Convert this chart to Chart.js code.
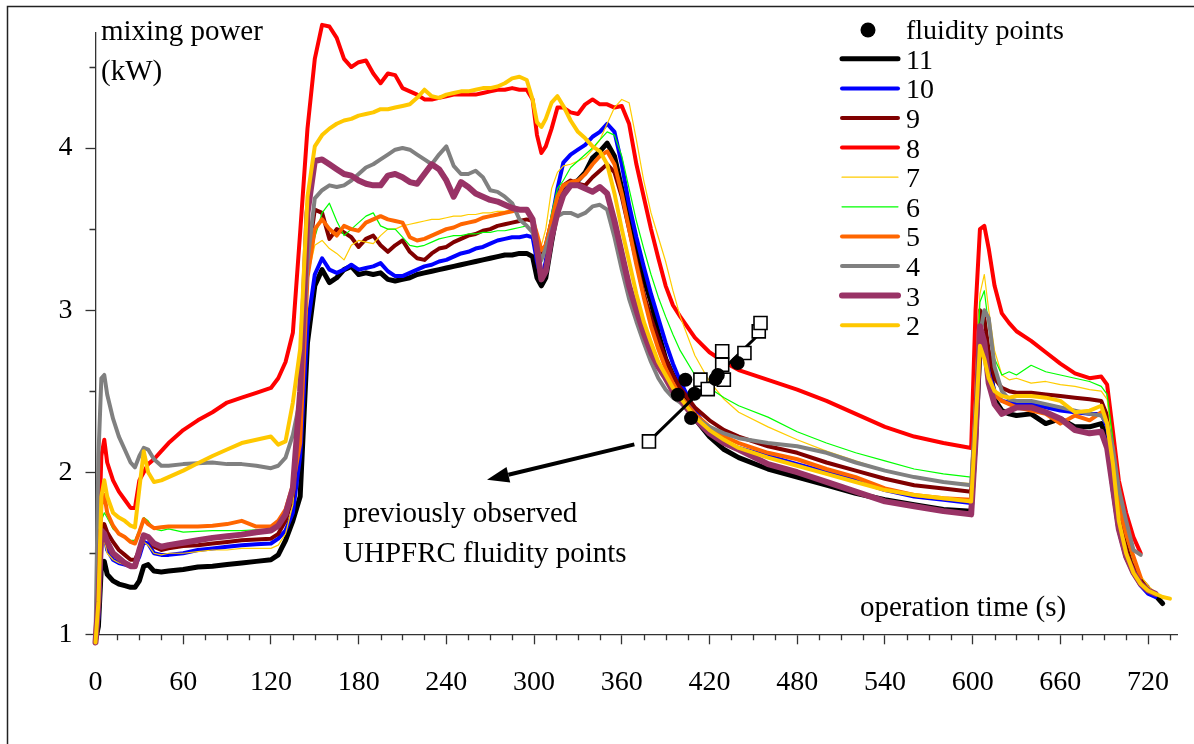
<!DOCTYPE html>
<html><head><meta charset="utf-8">
<script src="https://cdn.jsdelivr.net/npm/chart.js@4.4.1/dist/chart.umd.min.js"></script>
<style>html,body{margin:0;padding:0;background:#fff;}canvas{display:block;}</style>
</head><body>
<canvas id="c" width="1194" height="744"></canvas>
<script>
// ---------------- data ----------------
const timeS = [
 0,2,4,6,8,12,16,20,24,27,30,33,36,40,45,50,60,70,80,90,100,110,120,
 125,130,135,140,145,
 150,155,160,165,170,175,180,185,190,195,200,205,210,215,220,225,230,235,240,245,250,255,260,265,270,275,280,285,290,295,
 299,302,305,308,312,316,320,325,330,335,340,345,350,355,
 360,365,370,375,380,385,390,395,400,410,420,430,440,460,480,500,520,540,560,580,
 599,602,605,608,611,615,620,625,630,640,650,660,670,680,688,692,696,700,705,710,715,720,725,730,735
];
const p11 = [
 0.96,1.05,1.42,1.45,1.37,1.33,1.31,1.30,1.29,1.29,1.33,1.42,1.43,1.39,1.385,1.39,1.40,1.415,1.42,1.43,1.44,1.45,1.46,
 1.49,1.58,1.70,1.85,2.80,
 3.15,3.25,3.17,3.20,3.25,3.27,3.22,3.23,3.22,3.23,3.19,3.18,3.19,3.20,3.22,3.23,3.24,3.25,3.26,3.27,3.28,3.29,3.30,3.31,3.32,3.33,3.34,3.34,3.35,3.35,
 3.33,3.20,3.15,3.20,3.42,3.62,3.72,3.78,3.80,3.85,3.94,3.98,4.03,3.95,
 3.75,3.55,3.36,3.20,3.05,2.86,2.70,2.60,2.52,2.33,2.22,2.14,2.09,2.02,1.97,1.92,1.87,1.83,1.80,1.77,
 1.76,2.20,2.75,2.85,2.70,2.45,2.38,2.36,2.35,2.36,2.30,2.33,2.28,2.28,2.30,2.20,1.90,1.65,1.48,1.38,1.32,1.27,1.24,1.19,null
];
const p10 = [
 0.97,1.10,1.55,1.62,1.52,1.46,1.44,1.43,1.42,1.42,1.48,1.57,1.56,1.50,1.49,1.49,1.50,1.52,1.53,1.54,1.55,1.555,1.56,
 1.59,1.64,1.75,2.10,2.90,
 3.22,3.32,3.25,3.23,3.25,3.28,3.25,3.26,3.27,3.29,3.24,3.21,3.21,3.23,3.25,3.27,3.28,3.30,3.31,3.33,3.35,3.36,3.38,3.39,3.41,3.43,3.44,3.45,3.45,3.46,
 3.45,3.30,3.19,3.30,3.55,3.75,3.91,3.96,3.99,4.02,4.07,4.10,4.15,4.10,
 3.90,3.65,3.45,3.27,3.10,2.95,2.80,2.67,2.56,2.38,2.25,2.18,2.15,2.10,2.05,2.00,1.95,1.89,1.85,1.83,
 1.81,2.30,2.85,2.80,2.62,2.50,2.44,2.43,2.42,2.42,2.40,2.38,2.37,2.36,2.36,2.28,2.00,1.70,1.50,1.38,1.30,1.25,1.23,null,null
];
const p9 = [
 0.97,1.15,1.62,1.68,1.63,1.57,1.52,1.49,1.46,1.46,1.52,1.60,1.60,1.54,1.52,1.53,1.545,1.55,1.56,1.57,1.58,1.585,1.59,
 1.62,1.70,1.85,2.40,3.30,
 3.62,3.60,3.44,3.50,3.48,3.45,3.39,3.44,3.46,3.40,3.36,3.40,3.43,3.36,3.32,3.31,3.35,3.38,3.39,3.42,3.44,3.46,3.47,3.49,3.50,3.52,3.53,3.54,3.55,3.56,
 3.55,3.43,3.33,3.40,3.55,3.68,3.77,3.80,3.78,3.77,3.82,3.86,3.90,3.85,
 3.70,3.50,3.30,3.10,2.95,2.82,2.70,2.60,2.52,2.40,2.32,2.26,2.22,2.16,2.12,2.06,2.01,1.96,1.92,1.90,
 1.88,2.40,3.00,2.95,2.75,2.58,2.52,2.50,2.49,2.49,2.48,2.47,2.46,2.45,2.44,2.35,2.10,1.80,1.55,1.42,1.34,1.29,null,null,null
];
const p8 = [
 0.97,1.50,2.10,2.20,2.06,1.95,1.88,1.83,1.78,1.78,1.95,2.00,2.05,2.08,2.13,2.18,2.26,2.32,2.37,2.43,2.46,2.49,2.52,
 2.58,2.68,2.86,3.48,4.12,
 4.55,4.76,4.75,4.68,4.55,4.50,4.53,4.54,4.46,4.40,4.46,4.45,4.37,4.35,4.33,4.30,4.30,4.31,4.32,4.33,4.33,4.33,4.33,4.34,4.35,4.36,4.36,4.37,4.36,4.36,
 4.30,4.08,3.97,4.01,4.12,4.25,4.25,4.22,4.21,4.27,4.30,4.27,4.27,4.25,
 4.26,4.15,3.90,3.70,3.50,3.32,3.15,3.03,2.96,2.83,2.74,2.68,2.63,2.57,2.51,2.44,2.36,2.28,2.22,2.18,
 2.15,3.00,3.50,3.52,3.38,3.15,2.98,2.92,2.87,2.81,2.74,2.67,2.61,2.58,2.59,2.54,2.25,1.95,1.75,1.60,1.50,null,null,null,null
];
const p7 = [
 0.97,1.10,1.50,1.58,1.50,1.46,1.44,1.43,1.42,1.42,1.50,1.57,1.55,1.50,1.49,1.50,1.50,1.51,1.52,1.52,1.53,1.53,1.53,
 1.55,1.62,1.80,2.40,3.20,
 3.40,3.43,3.38,3.35,3.31,3.40,3.43,3.42,3.41,3.46,3.50,3.50,3.52,3.53,3.54,3.55,3.56,3.56,3.57,3.58,3.58,3.59,3.59,3.60,3.60,3.61,3.61,3.62,3.62,3.61,
 3.55,3.45,3.40,3.50,3.75,3.85,3.89,3.90,3.92,3.94,3.99,4.05,4.15,4.25,
 4.30,4.28,4.05,3.80,3.60,3.45,3.30,3.12,2.96,2.72,2.56,2.45,2.37,2.28,2.20,2.13,2.07,2.01,1.97,1.94,
 1.93,2.60,3.10,3.22,3.00,2.75,2.60,2.57,2.58,2.55,2.56,2.54,2.53,2.51,2.50,2.45,2.15,1.85,1.60,1.45,1.36,1.30,1.26,1.23,1.22
];
const p6 = [
 0.97,1.20,1.70,1.75,1.72,1.65,1.62,1.60,1.58,1.58,1.65,1.72,1.70,1.65,1.64,1.65,1.63,1.635,1.64,1.64,1.64,1.645,1.645,
 1.67,1.72,1.85,2.30,3.20,
 3.45,3.60,3.66,3.55,3.46,3.50,3.54,3.58,3.60,3.52,3.50,3.50,3.45,3.40,3.39,3.40,3.42,3.44,3.45,3.46,3.46,3.47,3.47,3.48,3.48,3.49,3.49,3.50,3.51,3.52,
 3.48,3.35,3.29,3.40,3.60,3.75,3.80,3.88,3.92,3.96,4.00,4.05,4.10,4.08,
 3.95,3.75,3.55,3.38,3.22,3.08,2.96,2.85,2.75,2.60,2.52,2.46,2.41,2.34,2.25,2.18,2.12,2.07,2.02,1.99,
 1.97,2.50,3.05,3.12,2.90,2.70,2.60,2.62,2.60,2.66,2.62,2.60,2.58,2.56,2.53,2.48,2.20,1.85,1.60,1.45,null,null,null,null,null
];
const p5 = [
 0.97,1.30,1.80,1.86,1.75,1.67,1.62,1.60,1.57,1.56,1.63,1.71,1.68,1.655,1.66,1.665,1.665,1.665,1.67,1.68,1.70,1.665,1.665,
 1.70,1.77,1.92,2.18,3.20,
 3.50,3.56,3.50,3.46,3.52,3.50,3.49,3.54,3.56,3.58,3.56,3.55,3.54,3.45,3.43,3.44,3.46,3.48,3.50,3.51,3.53,3.54,3.55,3.57,3.58,3.59,3.60,3.61,3.62,3.62,
 3.56,3.47,3.37,3.40,3.55,3.70,3.77,3.79,3.80,3.84,3.90,3.95,3.98,3.90,
 3.72,3.50,3.28,3.08,2.90,2.76,2.64,2.55,2.47,2.36,2.28,2.22,2.18,2.12,2.08,2.02,1.97,1.90,1.86,1.84,
 1.83,2.30,2.80,2.75,2.60,2.48,2.44,2.42,2.40,2.38,2.36,2.30,2.35,2.32,2.37,2.30,2.05,1.80,1.62,1.48,1.35,null,null,null,null
];
const p4 = [
 0.97,2.10,2.58,2.60,2.48,2.33,2.22,2.14,2.06,2.03,2.10,2.15,2.14,2.08,2.04,2.04,2.05,2.055,2.06,2.05,2.05,2.04,2.025,
 2.04,2.09,2.23,2.45,3.30,
 3.69,3.74,3.77,3.76,3.77,3.80,3.84,3.88,3.90,3.93,3.96,3.99,4.00,3.99,3.96,3.93,3.90,3.96,4.01,3.89,3.84,3.84,3.86,3.82,3.74,3.73,3.70,3.66,3.56,3.52,
 3.48,3.38,3.31,3.38,3.50,3.58,3.60,3.60,3.58,3.60,3.64,3.65,3.62,3.45,
 3.25,3.07,2.93,2.80,2.68,2.58,2.51,2.46,2.43,2.34,2.28,2.24,2.21,2.18,2.16,2.12,2.06,2.01,1.97,1.94,
 1.92,2.40,2.85,3.00,2.95,2.65,2.50,2.45,2.44,2.44,2.42,2.40,2.38,2.36,2.35,2.30,2.15,1.90,1.70,1.52,1.49,null,null,null,null
];
const p3 = [
 0.95,1.20,1.64,1.62,1.57,1.50,1.47,1.44,1.42,1.42,1.52,1.61,1.60,1.56,1.54,1.55,1.565,1.58,1.595,1.605,1.615,1.63,1.64,
 1.67,1.74,1.90,2.50,3.60,
 3.92,3.93,3.90,3.87,3.84,3.83,3.80,3.78,3.77,3.77,3.83,3.84,3.82,3.79,3.78,3.84,3.90,3.87,3.80,3.70,3.79,3.76,3.72,3.70,3.68,3.67,3.65,3.63,3.62,3.62,
 3.56,3.38,3.19,3.24,3.45,3.60,3.71,3.77,3.77,3.75,3.73,3.76,3.72,3.55,
 3.35,3.15,3.00,2.86,2.74,2.65,2.58,2.50,2.45,2.33,2.24,2.18,2.14,2.05,2.00,1.94,1.88,1.82,1.79,1.76,
 1.74,2.20,2.90,2.80,2.55,2.42,2.36,2.38,2.40,2.40,2.37,2.33,2.26,2.24,2.25,2.15,1.90,1.65,1.48,1.38,1.31,1.27,1.25,null,null
];
const p2 = [
 0.95,1.20,1.85,1.95,1.85,1.75,1.72,1.70,1.67,1.66,1.90,2.13,2.00,1.94,1.95,1.97,2.01,2.055,2.10,2.14,2.18,2.20,2.22,
 2.17,2.19,2.43,2.76,3.70,
 4.01,4.08,4.12,4.15,4.17,4.18,4.20,4.21,4.22,4.24,4.24,4.25,4.26,4.27,4.31,4.36,4.32,4.31,4.33,4.34,4.35,4.35,4.36,4.37,4.37,4.38,4.40,4.43,4.44,4.42,
 4.30,4.16,4.13,4.18,4.28,4.32,4.26,4.17,4.10,4.06,4.01,3.98,3.90,3.72,
 3.50,3.30,3.10,2.93,2.80,2.68,2.60,2.52,2.46,2.34,2.26,2.20,2.15,2.09,2.04,1.99,1.94,1.89,1.86,1.84,
 1.82,2.30,2.78,2.70,2.58,2.50,2.47,2.46,2.47,2.47,2.46,2.44,2.37,2.38,2.41,2.30,2.05,1.70,1.50,1.38,1.31,1.27,1.25,1.23,1.22
];
// fluidity points (time s, power kW)
const fluidT = [398.3, 403.5, 407.4, 409.7, 424.1, 425.7, 439.3];
const fluidP = [2.478, 2.571, 2.334, 2.484, 2.575, 2.600, 2.674];
// previously observed UHPFRC fluidity points
const prevT = [378.6, 413.8, 418.8, 428.7, 428.7, 429.8, 443.9, 453.7, 454.9];
const prevP = [2.190, 2.571, 2.513, 2.746, 2.663, 2.571, 2.736, 2.869, 2.921];
const fitT = [378.6, 456.0];
const fitP = [2.19, 2.87];
// arrow annotation (data coordinates): tail -> tip
const arrowTail = [368.6, 2.172];
const arrowTip = [267.8, 1.953];
const xTickValues = [0,60,120,180,240,300,360,420,480,540,600,660,720];
const yTickValues = [1,2,3,4];
const xMinorStep = 15, yMinorStep = 0.5;
const seriesNames = ['11','10','9','8','7','6','5','4','3','2'];
const seriesValues = [p11,p10,p9,p8,p7,p6,p5,p4,p3,p2];
const yTitle = ['mixing power','(kW)'];
const xTitle = 'operation time (s)';
const noteLines = ['previously observed','UHPFRC fluidity points'];
const fluidLabel = 'fluidity points';

// ---------------- styles ----------------
const FONT = '"Liberation Serif", "Times New Roman", serif';
const styles = {
 '11':{c:'#000000',w:5},
 '10':{c:'#0000FF',w:4},
 '9':{c:'#800000',w:4},
 '8':{c:'#FF0000',w:4},
 '7':{c:'#FFCC00',w:1.2},
 '6':{c:'#00FF00',w:1.2},
 '5':{c:'#FF6600',w:4},
 '4':{c:'#808080',w:4},
 '3':{c:'#993366',w:6},
 '2':{c:'#FFC800',w:4}
};

const toXY = (ts, vs) => ts.map((t,i)=>({x:t,y:vs[i]})).filter(p=>p.y!==null && p.y!==undefined);

const datasets = [];
datasets.push({label:fluidLabel, data:toXY(fluidT,fluidP), showLine:false, pointStyle:'circle',
  pointRadius:7, pointBackgroundColor:'#000', pointBorderColor:'#000', pointBorderWidth:0, order:0, clip:false, isLegendDot:true});
datasets.push({label:'prev', data:toXY(prevT,prevP), showLine:false, pointStyle:'rect',
  pointRadius:9.2, pointBackgroundColor:'#fff', pointBorderColor:'#000', pointBorderWidth:1.6, order:1, clip:false});
datasets.push({label:'fit', data:toXY(fitT,fitP), borderColor:'#000', borderWidth:3, pointRadius:0, order:2, clip:false});
seriesNames.forEach((n,i)=>{
  // 2 drawn on top ... 11 at bottom
  datasets.push({label:n, data:toXY(timeS, seriesValues[i]), borderColor:styles[n].c, backgroundColor:styles[n].c,
    borderWidth:styles[n].w, pointRadius:0, fill:false, order:12-i, clip:false, isSeries:true});
});

const decor = {
  id:'decor',
  beforeDraw(chart){
    const ctx = chart.ctx; ctx.save(); ctx.fillStyle='#fff'; ctx.fillRect(0,0,chart.width,chart.height); ctx.restore();
  },
  afterDraw(chart){
    const ctx = chart.ctx, xs = chart.scales.x, ys = chart.scales.y, ca = chart.chartArea;
    ctx.save();
    // outer frame
    ctx.strokeStyle='#222'; ctx.lineWidth=1.5; ctx.strokeRect(7.5,6.5,1400,1400);
    // minor ticks
    ctx.strokeStyle='#333'; ctx.lineWidth=1.3;
    ctx.beginPath();
    for(let v=xMinorStep; v<=xs.max; v+=xMinorStep){
      if(xTickValues.includes(v)) continue;
      const px = Math.round(xs.getPixelForValue(v))+0.5;
      ctx.moveTo(px, ca.bottom); ctx.lineTo(px, ca.bottom+6);
    }
    for(let v=ys.min+yMinorStep; v<=ys.max; v+=yMinorStep){
      if(yTickValues.includes(v)) continue;
      const py = Math.round(ys.getPixelForValue(v))+0.5;
      ctx.moveTo(ca.left-6, py); ctx.lineTo(ca.left, py);
    }
    ctx.stroke();
    // texts
    ctx.fillStyle='#000'; ctx.textBaseline='alphabetic'; ctx.textAlign='left';
    ctx.font = '29px '+FONT;
    ctx.fillText(yTitle[0], 101, 40);
    ctx.fillText(yTitle[1], 101, 80);
    ctx.fillText(xTitle, 860, 616);
    ctx.fillText(noteLines[0], 343, 522);
    ctx.fillText(noteLines[1], 343, 562);
    // arrow
    const tx = xs.getPixelForValue(arrowTail[0]), ty = ys.getPixelForValue(arrowTail[1]);
    const hx = xs.getPixelForValue(arrowTip[0]), hy = ys.getPixelForValue(arrowTip[1]);
    const ang = Math.atan2(hy-ty, hx-tx), L=22, W=8;
    const bx = hx - L*Math.cos(ang), by = hy - L*Math.sin(ang);
    ctx.strokeStyle='#000'; ctx.lineWidth=4; ctx.lineCap='butt';
    ctx.beginPath(); ctx.moveTo(tx,ty); ctx.lineTo(bx,by); ctx.stroke();
    ctx.beginPath(); ctx.moveTo(hx,hy);
    ctx.lineTo(bx + W*Math.sin(ang), by - W*Math.cos(ang));
    ctx.lineTo(bx - W*Math.sin(ang), by + W*Math.cos(ang));
    ctx.closePath(); ctx.fill();
    // legend
    ctx.font = '28px '+FONT;
    const lx0=842, lx1=898, tx0=906, rowY0=30, step=29.6;
    const dot = chart.data.datasets.find(d=>d.isLegendDot);
    ctx.beginPath(); ctx.arc(868, rowY0, 7.5, 0, Math.PI*2); ctx.fillStyle=dot.pointBackgroundColor; ctx.fill();
    ctx.fillStyle='#000'; ctx.fillText(dot.label, tx0, rowY0+9);
    const series = chart.data.datasets.filter(d=>d.isSeries);
    series.forEach((d,i)=>{
      const y = rowY0 + 28.8 + i*step;
      ctx.strokeStyle=d.borderColor; ctx.lineWidth=d.borderWidth; ctx.lineCap='round';
      ctx.beginPath(); ctx.moveTo(lx0,y); ctx.lineTo(lx1,y); ctx.stroke();
      ctx.fillStyle='#000'; ctx.fillText(d.label, tx0, y+10);
    });
    ctx.restore();
  }
};

const axisCommon = {
  grid:{drawOnChartArea:false, drawTicks:true, tickLength:10, tickColor:'#333', tickWidth:1.3},
  border:{display:true, color:'#333', width:1.3}
};

new Chart(document.getElementById('c'), {
  type:'line',
  data:{datasets},
  options:{
    responsive:false, animation:false, devicePixelRatio:1,
    layout:{padding:{top:33, right:16.7, left:0, bottom:0}},
    plugins:{legend:{display:false}, tooltip:{enabled:false}},
    elements:{line:{tension:0, borderJoinStyle:'round', borderCapStyle:'round'}, point:{radius:0, hoverRadius:0}},
    scales:{
      x:{type:'linear', min:0, max:740,
        afterBuildTicks(a){ a.ticks = xTickValues.map(v=>({value:v})); },
        afterFit(a){ a.height = 109.7; },
        ticks:{font:{family:FONT, size:28}, color:'#000', padding:22, maxRotation:0, autoSkip:false},
        ...axisCommon},
      y:{type:'linear', min:1, max:4.71,
        afterBuildTicks(a){ a.ticks = yTickValues.map(v=>({value:v})); },
        afterFit(a){ a.width = 95.5; },
        ticks:{font:{family:FONT, size:28}, color:'#000', padding:13},
        ...axisCommon}
    }
  },
  plugins:[decor]
});
</script>
</body></html>
